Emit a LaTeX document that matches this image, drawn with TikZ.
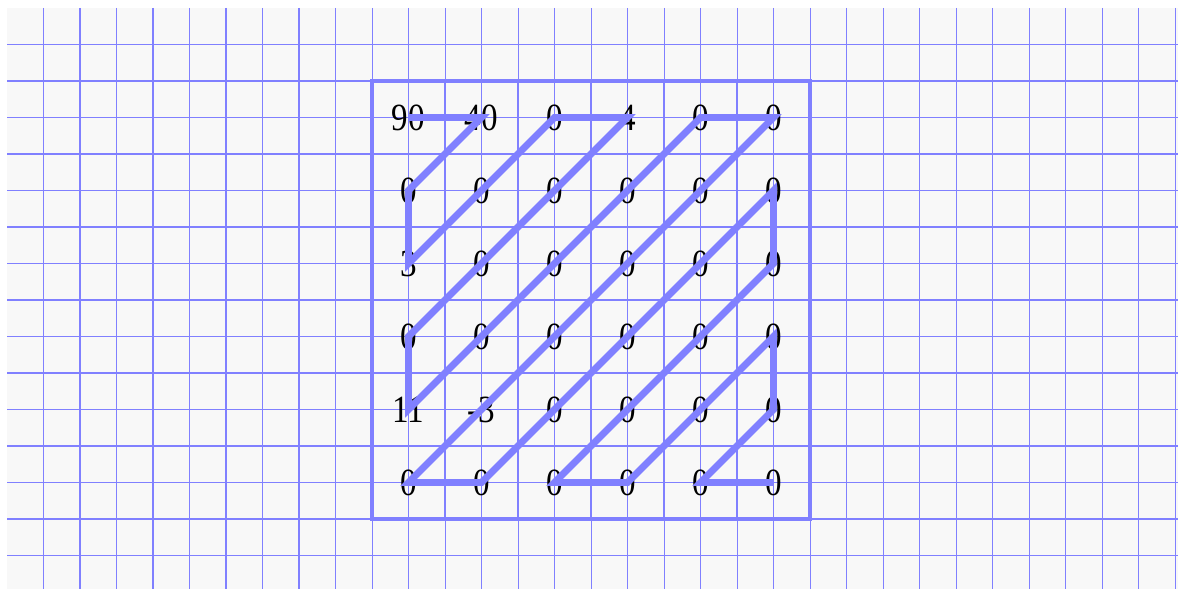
\documentclass[tikz,border=0pt]{standalone}
\usepackage{fontspec}
\setmainfont{Liberation Serif}
\newfontfamily\numfont[FakeStretch=0.86]{Liberation Serif}
\definecolor{paperc}{RGB}{248,248,248}
\definecolor{gridc}{RGB}{128,128,255}
\tikzset{
  paper/.style={fill=paperc},
  gridline/.style={draw=gridc, line width=0.8pt},
  cellline/.style={draw=gridc, line width=2pt},
  boxline/.style={draw=gridc, line width=3pt},
  num/.style={inner sep=0pt, font=\numfont\fontsize{30}{30}\selectfont, text=black},
  zz/.style={draw=gridc, line width=5.3pt, line join=miter, line cap=butt}
}
\begin{document}
\begin{tikzpicture}[x=1cm,y=-1cm]
\useasboundingbox (0,0) rectangle (32.274,16.137);
\fill[paper] (0.192,0.219) rectangle (32.274,16.137);
\begin{scope}[shift={(0.192,0.219)}]
  \begin{scope}
    \clip (0,0) rectangle (32.082,15.918);
    \foreach \i in {1,...,32} \draw[gridline] (\i,0) -- (\i,15.918);
    \foreach \j in {1,...,15} \draw[gridline] (0,\j) -- (32.082,\j);
  \end{scope}
  \foreach \i in {12,14,...,20} \draw[cellline] (\i,2) -- (\i,14);
  \foreach \j in {4,6,...,12} \draw[cellline] (10,\j) -- (22,\j);
  \draw[boxline] (10,2) rectangle (22,14);
  % numbers
  \foreach \r/\vals in {1/{90,40,0,4,0,0},2/{0,0,0,0,0,0},3/{3,0,0,0,0,0},4/{0,0,0,0,0,0},5/{11,-3,0,0,0,0},6/{0,0,0,0,0,0}}{
    \foreach \v [count=\c] in \vals {
      \node[num] (n-\r-\c) at ({9+2*\c},{1+2*\r}) {\v};
    }
  }
  \draw[zz] (n-1-1.center) -- (n-1-2.center) -- (n-2-1.center) -- (n-3-1.center)
    -- (n-1-3.center) -- (n-1-4.center) -- (n-4-1.center) -- (n-5-1.center)
    -- (n-1-5.center) -- (n-1-6.center) -- (n-6-1.center) -- (n-6-2.center)
    -- (n-2-6.center) -- (n-3-6.center) -- (n-6-3.center) -- (n-6-4.center)
    -- (n-4-6.center) -- (n-5-6.center) -- (n-6-5.center) -- (n-6-6.center);
\end{scope}
\end{tikzpicture}
\end{document}
